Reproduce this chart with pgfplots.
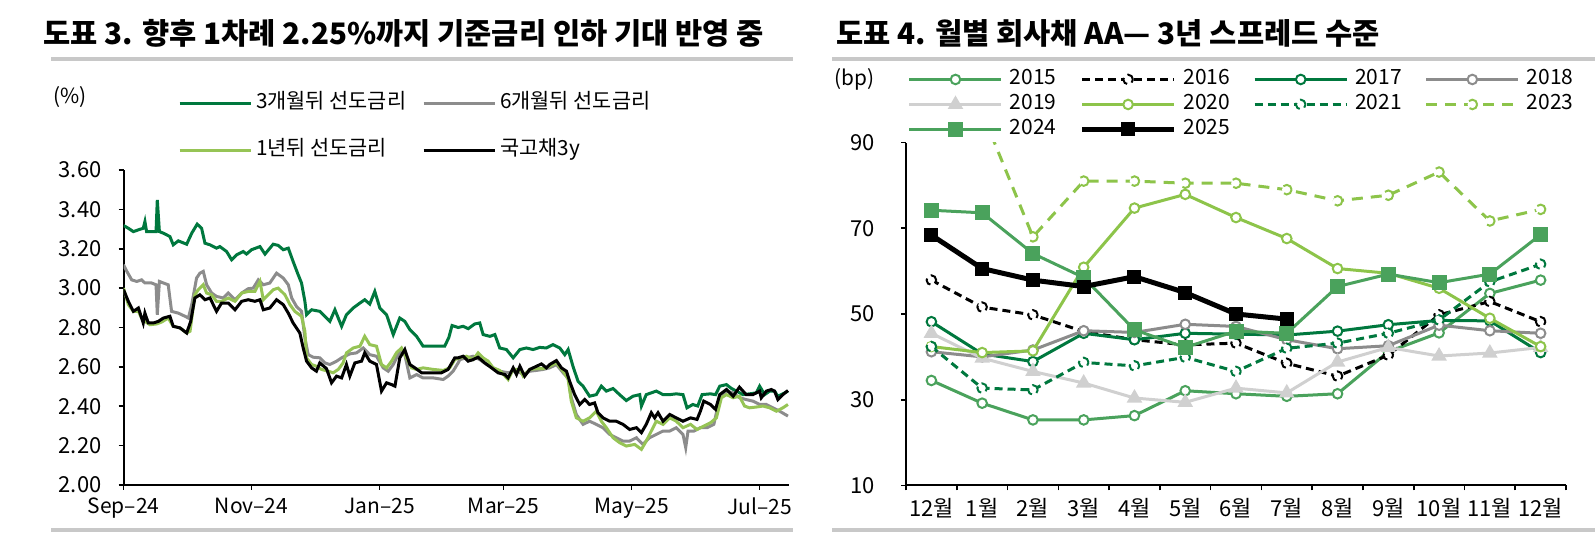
\documentclass[border=0pt]{standalone}
\usepackage{fontspec}
\setmainfont{Noto Sans CJK KR}
\usepackage{pgfplots}
\pgfplotsset{compat=1.18}
\definecolor{dgreen}{RGB}{0,120,62}
\definecolor{mgreen}{RGB}{74,162,92}
\definecolor{lgreen}{RGB}{141,196,74}
\definecolor{lgreenL}{RGB}{150,196,85}
\definecolor{mgray}{RGB}{140,140,140}
\definecolor{lgray}{RGB}{208,208,208}
\definecolor{rulec}{RGB}{200,200,200}
\newcommand{\lbl}{\fontsize{10.4}{11}\selectfont}
\newcommand{\tkl}{\fontsize{11}{12}\selectfont}
\begin{document}
\begin{tikzpicture}[x=1pt,y=1pt]
\useasboundingbox (0,0) rectangle (797.5,267.5);
\node[anchor=west, inner sep=0, font=\fontsize{14.8}{16}\selectfont\bfseries] at (21.5,251) {도표 3. 향후 1차례 2.25\%까지 기준금리 인하 기대 반영 중};
\node[anchor=west, inner sep=0, font=\fontsize{14.8}{16}\selectfont\bfseries] at (418,251) {도표 4. 월별 회사채 AA— 3년 스프레드 수준};
\draw[rulec, line width=2pt] (25.5,238) -- (396.5,238);
\draw[rulec, line width=2pt] (416,238) -- (797.5,238);
\draw[rulec, line width=2pt] (25.5,2.5) -- (396.5,2.5);
\draw[rulec, line width=2pt] (416,2.5) -- (797.5,2.5);
\node[anchor=west, inner sep=0, font=\lbl] at (26.5,219) {(\%)};
\node[anchor=west, inner sep=0, font=\lbl] at (417,228) {(bp)};

\begin{axis}[at={(61.75pt,25pt)}, anchor=south west, scale only axis,
 width=332.75pt, height=157.5pt,
 xmin=0, xmax=317, ymin=2, ymax=3.6,
 axis x line*=bottom, axis y line*=left, axis line style={line width=1pt,-},
 tick align=outside, major tick length=2.5pt, tick style={line width=0.8pt,black},
 xtick={0,61,122,181,242,303}, xticklabels={Sep–24,Nov–24,Jan–25,Mar–25,May–25,Jul–25},
 ytick={2,2.2,2.4,2.6,2.8,3,3.2,3.4,3.6},
 yticklabel style={/pgf/number format/fixed, /pgf/number format/fixed zerofill, /pgf/number format/precision=2, /pgf/number format/assume math mode=true, font=\tkl, xshift=-5pt},
 xticklabel style={font=\fontsize{10.5}{11}\selectfont, yshift=-0.5pt},
 legend columns=2, legend cell align=left,
 legend style={at={(0.0819,1.241)}, anchor=north west, draw=none, fill=none, inner sep=0pt, outer sep=0pt,
   row sep=14.5pt, font=\lbl, nodes={inner xsep=2pt, inner ysep=0pt, text height=7pt, text depth=2pt},
   /tikz/every even column/.append style={column sep=6pt}},
 legend image code/.code={\draw[#1] (0pt,0pt) -- (35.5pt,0pt);},
]
\addplot[dgreen, line width=1.5pt] coordinates {
(0,3.318)(2.3,3.304)(4.7,3.287)(7.1,3.296)(9.4,3.304)(10.2,3.338)(11,3.287)(14.2,3.287)(15.5,3.287)(16.1,3.448)(17.1,3.287)(19,3.279)(22.1,3.262)(23.7,3.22)(26.1,3.24)(30.1,3.223)(32.5,3.279)(35.1,3.325)(37.2,3.304)(38.8,3.228)(41.2,3.22)(44.3,3.203)(45.9,3.211)(49.1,3.186)(51.5,3.144)(53.9,3.169)(57,3.186)(58.6,3.173)(61,3.195)(65,3.211)(67.4,3.173)(71.3,3.223)(73.7,3.217)(76.1,3.195)(78.5,3.203)(80.8,3.135)(83.2,3.068)(84.8,3.026)(86.4,2.933)(87.2,2.865)(89.6,2.89)(93.5,2.882)(95.1,2.865)(98.3,2.831)(100.7,2.89)(103.9,2.806)(106.2,2.865)(107.8,2.882)(109.4,2.899)(112.6,2.924)(114.9,2.941)(117.3,2.919)(119.7,2.983)(122.1,2.899)(125.3,2.865)(128.5,2.764)(131.6,2.848)(134,2.831)(136.4,2.789)(139.6,2.755)(142.7,2.705)(147.5,2.705)(153,2.705)(155,2.75)(156.5,2.81)(159.4,2.80)(161.8,2.806)(164.2,2.794)(167.3,2.818)(169.7,2.823)(171.3,2.764)(174.5,2.755)(176.9,2.764)(179.2,2.696)(182.4,2.688)(185.6,2.646)(188.8,2.688)(191.9,2.696)(195.1,2.688)(198.3,2.699)(201.4,2.696)(204.6,2.713)(207.8,2.696)(210.2,2.662)(211.8,2.688)(214.1,2.603)(216.5,2.527)(218.9,2.502)(222,2.451)(225.2,2.459)(227.6,2.502)(230,2.477)(233.2,2.49)(236.3,2.459)(239.5,2.429)(242.7,2.451)(245.9,2.459)(246.7,2.401)(249,2.459)(253.8,2.477)(257,2.459)(260.2,2.459)(263.3,2.463)(266.5,2.459)(268.4,2.392)(271.2,2.409)(273.5,2.401)(275.6,2.459)(279.6,2.463)(282,2.459)(284,2.502)(287.2,2.51)(289.6,2.49)(292,2.477)(295,2.459)(298.2,2.463)(301.4,2.468)(303,2.502)(305.4,2.459)(307.8,2.477)(310.1,2.477)(311.7,2.451)(314.1,2.463)(316.5,2.477)};
\addlegendentry{3개월뒤 선도금리}
\addplot[mgray, line width=1.5pt] coordinates {
(0,3.119)(1.6,3.085)(3.9,3.042)(6.3,3.034)(8.6,3.042)(10.2,3.026)(13.4,3.026)(15.5,3.017)(16.1,2.865)(17.1,3.034)(19,3.026)(21.3,3.017)(22.9,2.882)(26.1,2.873)(29.3,2.857)(30.9,2.848)(32.5,2.916)(34.8,3.051)(36.4,3.076)(38,3.085)(39.6,3.017)(42,2.975)(44.3,2.958)(47.5,2.95)(49.9,2.975)(53.1,2.941)(56.3,2.975)(59.4,2.997)(61.8,3.0)(64.2,3.042)(66.6,3.017)(69.7,3.026)(72.9,3.076)(76.1,3.051)(78.5,3.017)(80.1,2.95)(82.4,2.907)(84.8,2.882)(86.4,2.747)(88,2.662)(90.4,2.649)(93.5,2.646)(95.9,2.62)(98.3,2.612)(101.5,2.629)(103.9,2.646)(107.8,2.666)(111,2.671)(114.2,2.696)(117.3,2.662)(120.5,2.654)(123.7,2.595)(126.1,2.578)(128.5,2.612)(131.6,2.679)(134,2.662)(136.4,2.544)(139.6,2.561)(142.7,2.544)(147.5,2.544)(152.3,2.536)(154.6,2.553)(157,2.578)(159.4,2.62)(160.2,2.637)(163.4,2.646)(166.5,2.654)(169.7,2.637)(172.9,2.612)(176.1,2.595)(179.2,2.578)(183.2,2.57)(187.2,2.582)(190.4,2.561)(193.5,2.578)(196.7,2.582)(199.9,2.587)(203,2.595)(206.2,2.612)(209.4,2.57)(211.8,2.544)(213.3,2.443)(215.7,2.358)(218.9,2.308)(222,2.324)(225.2,2.308)(228.4,2.291)(231.6,2.257)(234.7,2.24)(237.9,2.223)(241.1,2.223)(244.3,2.24)(247.4,2.206)(250.6,2.24)(253.8,2.257)(257,2.274)(260.2,2.274)(263.3,2.291)(266.5,2.257)(267.8,2.19)(268.9,2.274)(271.7,2.274)(274.8,2.291)(278,2.291)(281.2,2.308)(284,2.443)(287.2,2.477)(290.4,2.468)(293.4,2.443)(296.6,2.434)(299.8,2.426)(303,2.409)(306.2,2.409)(309.3,2.392)(312.5,2.375)(316.5,2.35)};
\addlegendentry{6개월뒤 선도금리}
\addplot[lgreenL, line width=1.5pt] coordinates {
(0,3.0)(2.3,2.916)(4.7,2.882)(7.1,2.882)(8.6,2.848)(10.2,2.831)(12.6,2.814)(15.8,2.818)(18.2,2.828)(21.3,2.848)(23.7,2.806)(26.9,2.798)(30.1,2.772)(31.7,2.781)(34,2.966)(35.6,2.992)(38,3.017)(39.6,2.975)(42,2.966)(44.3,2.933)(46.7,2.933)(49.9,2.95)(53.1,2.933)(56.3,2.975)(59.4,2.983)(62.6,2.983)(65,3.034)(66.6,2.941)(68.2,2.958)(71.3,2.992)(73.7,3.0)(76.9,2.966)(79.3,2.916)(81.6,2.882)(84.8,2.857)(86.4,2.781)(87.2,2.645)(89.6,2.612)(91.9,2.603)(94.3,2.587)(97.5,2.578)(99.9,2.57)(102.3,2.587)(104.6,2.62)(106.2,2.671)(109.4,2.696)(112.6,2.705)(114.9,2.755)(117.3,2.713)(120.5,2.705)(122.9,2.612)(125.3,2.595)(127.7,2.629)(130,2.671)(132.4,2.696)(134.8,2.645)(137.2,2.595)(139.6,2.587)(142.7,2.595)(147.5,2.587)(152.3,2.582)(155.4,2.595)(157.8,2.637)(160.2,2.646)(163.4,2.654)(166.5,2.637)(168.9,2.671)(171.3,2.646)(173.7,2.629)(176.1,2.595)(179.2,2.582)(183.2,2.536)(185.6,2.587)(188.8,2.587)(190.4,2.553)(193.5,2.587)(196.7,2.591)(199.9,2.591)(203,2.603)(206.2,2.62)(209.4,2.578)(211.8,2.536)(213.3,2.426)(215.7,2.341)(218.9,2.324)(222,2.341)(225.2,2.375)(227.6,2.324)(230,2.291)(233.2,2.24)(236.3,2.215)(239.5,2.198)(243.5,2.206)(246.7,2.181)(249,2.223)(251.4,2.274)(253.8,2.324)(257,2.308)(260.2,2.341)(263.3,2.324)(266.5,2.291)(270.1,2.308)(273.2,2.282)(276.4,2.299)(279.6,2.316)(282.4,2.341)(284.8,2.443)(287.2,2.459)(290.4,2.443)(293.4,2.451)(295.8,2.401)(298.2,2.392)(301.4,2.396)(304.6,2.401)(307.8,2.392)(311,2.375)(314.1,2.392)(316.5,2.409)};
\addlegendentry{1년뒤 선도금리}
\addplot[black, line width=1.5pt] coordinates {
(0,2.992)(2.3,2.933)(4.7,2.882)(7.1,2.899)(9.4,2.823)(10.2,2.873)(11.8,2.823)(14.2,2.823)(16.6,2.831)(19,2.848)(22.1,2.857)(23.7,2.806)(26.9,2.798)(30.1,2.772)(32,2.831)(34,2.95)(36.4,2.966)(38.8,2.941)(41.2,2.95)(44.3,2.882)(46.7,2.924)(49.9,2.924)(53.1,2.89)(56.3,2.933)(59.4,2.941)(62.6,2.933)(65,2.941)(66.6,2.89)(69.7,2.899)(72.9,2.941)(76.1,2.916)(78.5,2.873)(80.8,2.823)(84,2.772)(85.6,2.696)(87.2,2.629)(89.6,2.595)(91.9,2.578)(93.5,2.62)(96.7,2.591)(99.1,2.519)(101.5,2.553)(103.9,2.544)(106.2,2.612)(107.8,2.553)(110.2,2.62)(113.4,2.629)(114.9,2.671)(117.3,2.629)(120.5,2.612)(122.9,2.477)(125.3,2.519)(127.7,2.51)(129.3,2.502)(131.6,2.645)(134,2.688)(136.4,2.612)(138.8,2.595)(142,2.57)(147.5,2.57)(151.5,2.57)(154.6,2.587)(157.8,2.646)(159.4,2.646)(161.8,2.654)(164.2,2.629)(166.5,2.637)(168.9,2.649)(172.1,2.62)(175.3,2.595)(178.4,2.57)(181.6,2.561)(183.2,2.544)(185.6,2.595)(187.2,2.561)(188.8,2.603)(191.1,2.553)(193.5,2.587)(196.7,2.603)(199.1,2.615)(201.4,2.595)(203,2.612)(206.2,2.632)(208.6,2.595)(211,2.578)(212.5,2.527)(214.9,2.459)(217.3,2.409)(219.7,2.434)(222,2.409)(224.4,2.417)(226,2.367)(228.4,2.341)(231.6,2.324)(234.7,2.324)(237.9,2.308)(241.1,2.282)(244.3,2.291)(246.7,2.266)(249,2.308)(251.4,2.367)(253,2.341)(254.6,2.367)(257,2.324)(260.2,2.358)(263.3,2.341)(266.5,2.324)(270.1,2.341)(273.2,2.333)(274.8,2.375)(276.4,2.426)(279.6,2.409)(282,2.384)(284,2.459)(287.2,2.485)(290.4,2.451)(293.4,2.497)(296.6,2.459)(299.8,2.459)(303,2.477)(303.8,2.443)(306.2,2.477)(308.6,2.485)(310.1,2.477)(311.7,2.434)(314.1,2.459)(316.5,2.48)};
\addlegendentry{국고채3y}
\end{axis}

\begin{axis}[at={(453pt,24.75pt)}, anchor=south west, scale only axis,
 width=330pt, height=171.5pt,
 xmin=-0.5, xmax=12.5, ymin=10, ymax=90,
 axis x line*=bottom, axis y line*=left, axis line style={line width=1pt,-},
 tick align=outside, major tick length=0pt, minor tick length=2.5pt,
 tick style={line width=0.8pt,black},
 xtick={0,...,12}, xticklabels={12월,1월,2월,3월,4월,5월,6월,7월,8월,9월,10월,11월,12월},
 minor xtick={-0.5,0.5,...,12.5},
 ytick={10,30,50,70,90}, minor ytick={10,30,50,70,90},
 yticklabel style={/pgf/number format/assume math mode=true, font=\tkl, xshift=-12pt},
 xticklabel style={font=\tkl, yshift=-3pt},
 clip marker paths=true,
 legend columns=4, legend cell align=left,
 legend style={at={(0.003,1.21)}, anchor=north west, draw=none, fill=none, inner sep=0pt, outer sep=0pt,
   row sep=3.5pt, font=\fontsize{10.5}{11}\selectfont, nodes={inner xsep=3.5pt, inner ysep=0pt, text height=7pt, text depth=2pt},
   /tikz/every even column/.append style={column sep=8pt}},
 legend image code/.code={\draw[mark repeat=2,mark phase=2,#1] plot coordinates {(0pt,0pt) (23pt,0pt) (46pt,0pt)};},
 every axis plot/.append style={line width=1.5pt},
]
\addplot[mgreen, mark=*, mark size=2.4pt, mark options={fill=white, line width=1pt}] coordinates {
(0,34.5)(1,29.2)(2,25.3)(3,25.3)(4,26.3)(5,32.1)(6,31.4)(7,30.8)(8,31.4)(9,41.2)(10,45.6)(11,54.8)(12,57.9)};
\addlegendentry{2015}
\addplot[black, dash pattern=on 4pt off 2.5pt, mark=*, mark size=2.4pt, mark options={fill=white, line width=1pt}] coordinates {
(0,57.9)(1,51.6)(2,49.8)(3,45.9)(4,44)(5,42.8)(6,43.2)(7,38.5)(8,35.5)(9,40.4)(10,49.8)(11,52.9)(12,48.2)};
\addlegendentry{2016}
\addplot[dgreen, mark=*, mark size=2.4pt, mark options={fill=white, line width=1pt}] coordinates {
(0,48.2)(1,40.7)(2,38.9)(3,45.5)(4,44)(5,45.5)(6,45.3)(7,45.1)(8,46)(9,47.5)(10,48.5)(11,48.4)(12,41)};
\addlegendentry{2017}
\addplot[mgray, mark=*, mark size=2.4pt, mark options={fill=white, line width=1pt}] coordinates {
(0,41.2)(1,40)(2,41.6)(3,46.1)(4,45.7)(5,47.6)(6,47.1)(7,44)(8,41.9)(9,42.6)(10,47.4)(11,46.1)(12,45.5)};
\addlegendentry{2018}
\addplot[lgray, mark=triangle*, mark size=3pt, mark options={fill=lgray}] coordinates {
(0,45.5)(1,39.7)(2,36.6)(3,33.9)(4,30.4)(5,29.4)(6,32.7)(7,31.6)(8,38.8)(9,42.2)(10,40.2)(11,40.9)(12,42.2)};
\addlegendentry{2019}
\addplot[lgreen, mark=*, mark size=2.4pt, mark options={fill=white, line width=1pt}] coordinates {
(0,42.4)(1,41)(2,41.4)(3,60.9)(4,74.7)(5,77.9)(6,72.5)(7,67.6)(8,60.6)(9,59.5)(10,56)(11,49)(12,42.4)};
\addlegendentry{2020}
\addplot[dgreen, dash pattern=on 4pt off 2.5pt, mark=*, mark size=2.4pt, mark options={fill=white, line width=1pt}] coordinates {
(0,42.4)(1,32.7)(2,32.3)(3,38.7)(4,37.9)(5,39.9)(6,36.6)(7,42)(8,43.2)(9,45.5)(10,48.6)(11,57.5)(12,61.6)};
\addlegendentry{2021}
\addplot[lgreen, dash pattern=on 5.5pt off 4pt, mark=*, mark size=2.4pt, mark options={fill=white, line width=1pt}] coordinates {
(0,100)(1,97)(2,68)(3,81)(4,81)(5,80.5)(6,80.5)(7,79)(8,76.4)(9,77.7)(10,83.1)(11,71.7)(12,74.4)};
\addlegendentry{2023}
\addplot[mgreen, mark=square*, mark size=3pt, mark options={fill=mgreen}] coordinates {
(0,74.2)(1,73.6)(2,64.1)(3,58.5)(4,46.3)(5,42.2)(6,46)(7,45.5)(8,56.4)(9,59.3)(10,57.3)(11,59.3)(12,68.5)};
\addlegendentry{2024}
\addplot[black, line width=2.5pt, mark=square*, mark size=3pt, mark options={fill=black, line width=1pt}] coordinates {
(0,68.4)(1,60.6)(2,57.9)(3,56.4)(4,58.7)(5,55)(6,50)(7,48.8)};
\addlegendentry{2025}
\end{axis}
\end{tikzpicture}
\end{document}
